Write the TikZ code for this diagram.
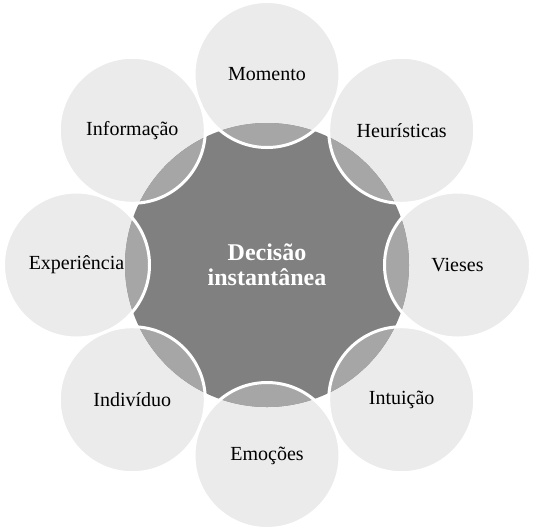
\documentclass[tikz,border=0pt]{standalone}
\usepackage{fontspec}
\setmainfont{Liberation Serif}
\definecolor{lightc}{RGB}{235,235,235}
\definecolor{midc}{RGB}{166,166,166}
\definecolor{darkc}{RGB}{128,128,128}
\tikzset{
  lbl/.style={text=black, font=\fontsize{20}{24}\selectfont, inner sep=0pt},
  ctr/.style={text=white, font=\bfseries\fontsize{24}{25}\selectfont, align=center, inner sep=0pt},
  ring/.style={white, line width=3pt}
}
\begin{document}
\begin{tikzpicture}[x=1pt,y=-1pt]
\useasboundingbox (0,0) rectangle (535,531);
\coordinate (C) at (267,265);
\coordinate (m) at (267,74.5);
\coordinate (h) at (401.7,130.3);
\coordinate (v) at (457.5,265);
\coordinate (t) at (401.7,399.7);
\coordinate (e) at (267,455.5);
\coordinate (d) at (132.3,399.7);
\coordinate (x) at (76.5,265);
\coordinate (f) at (132.3,130.3);
\def\orad{73}
\foreach \p in {m,h,v,t,e,d,x,f} \fill[lightc] (\p) circle (\orad);
\fill[darkc] (C) circle (142);
\begin{scope}
  \clip (C) circle (142);
  \foreach \p in {m,h,v,t,e,d,x,f} \fill[midc] (\p) circle (\orad);
\end{scope}
\foreach \p in {m,h,v,t,e,d,x,f} \draw[ring] (\p) circle (\orad);
\node[ctr] (center) at (C) {Decisão\\instantânea};
\node[lbl] (lm) at (m) {Momento};
\node[lbl] (lh) at (h) {Heurísticas};
\node[lbl] (lv) at (v) {Vieses};
\node[lbl] (lt) at (t) {Intuição};
\node[lbl] (le) at (e) {Emoções};
\node[lbl] (ld) at (d) {Indivíduo};
\node[lbl] (lx) at (x) {Experiência};
\node[lbl] (lf) at (f) {Informação};
\end{tikzpicture}
\end{document}
